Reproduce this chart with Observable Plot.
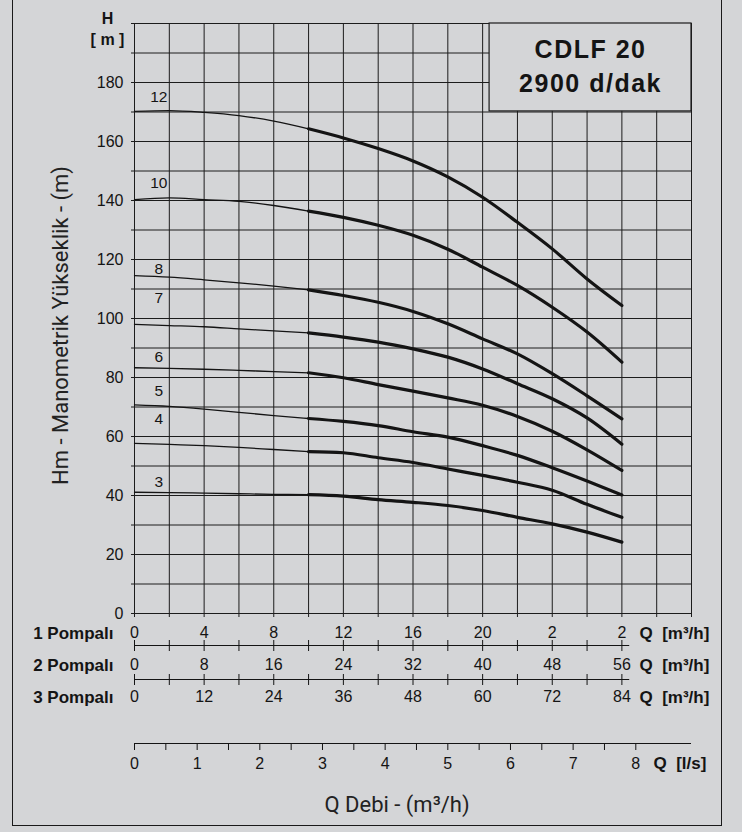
<!DOCTYPE html>
<html>
<head>
<meta charset="utf-8">
<script src="https://cdn.jsdelivr.net/npm/d3@7"></script>
<script src="https://cdn.jsdelivr.net/npm/@observablehq/plot@0.6"></script>
<style>
  html, body { margin: 0; padding: 0; background: #d4d5d7; }
  #wrap { position: relative; width: 742px; height: 832px; overflow: hidden; background: #d4d5d7; }
  #frame { position: absolute; left: 12px; top: -10px; width: 710px; height: 836px; border: 1.6px solid #1a1a1a; box-sizing: border-box; }
  #chart { position: absolute; left: 0; top: 0; }
</style>
</head>
<body>
<div id="wrap"><div id="frame"></div><div id="chart"></div></div>
<script>
// ---- data (1 pump flow Q in m³/h, head H in m) ----
const qFlow = [0, 2, 4, 6, 8, 10, 12, 14, 16, 18, 20, 22, 24, 26, 28];
const head12 = [170.2, 170.5, 169.9, 168.8, 166.9, 164.3, 161.2, 157.6, 153.4, 148.0, 141.1, 132.6, 123.6, 113.4, 104.4];
const head10 = [140.3, 140.9, 140.3, 139.7, 138.3, 136.4, 134.3, 131.6, 128.2, 123.5, 117.4, 111.2, 103.8, 95.4, 85.2];
const head8  = [114.5, 114.0, 113.1, 112.1, 111.0, 109.7, 107.8, 105.5, 102.4, 98.2, 93.1, 88.0, 81.3, 73.8, 66.0];
const head7  = [98.0, 97.6, 97.2, 96.5, 95.8, 95.1, 93.7, 92.0, 89.7, 86.9, 82.9, 77.9, 72.8, 66.3, 57.4];
const head6  = [83.3, 83.1, 82.8, 82.4, 82.0, 81.6, 79.9, 77.6, 75.4, 73.1, 70.6, 66.8, 61.8, 55.5, 48.5];
const head5  = [70.7, 70.2, 69.3, 68.2, 67.1, 66.1, 65.1, 63.7, 61.6, 59.8, 56.9, 53.6, 49.4, 44.9, 40.2];
const head4  = [57.7, 57.3, 56.9, 56.3, 55.6, 54.9, 54.5, 52.8, 51.2, 49.0, 46.8, 44.5, 41.8, 37.0, 32.6];
const head3  = [41.1, 41.0, 40.8, 40.6, 40.4, 40.3, 39.8, 38.6, 37.7, 36.6, 34.9, 32.6, 30.4, 27.6, 24.2];
const stageNames = ["12", "10", "8", "7", "6", "5", "4", "3"];
const stageHeads = [head12, head10, head8, head7, head6, head5, head4, head3];
const stageLabelQ = [1.4, 1.4, 1.4, 1.4, 1.4, 1.4, 1.4, 1.4];
const stageLabelH = [175, 145.8, 116.9, 106.8, 87, 75.3, 65.8, 44.4];
const thickFrom = 10; // thin line up to Q=10, thick afterwards

// ---- axes / tick labels ----
const yTicks = [0, 20, 40, 60, 80, 100, 120, 140, 160, 180];
const pump1Ticks = [0, 4, 8, 12, 16, 20, 24, 28];
const pump1Labels = ["0", "4", "8", "12", "16", "20", "2", "2"];
const pump2Ticks = [0, 8, 16, 24, 32, 40, 48, 56];
const pump3Ticks = [0, 12, 24, 36, 48, 60, 72, 84];
const lsTicks = [0, 1, 2, 3, 4, 5, 6, 7, 8];
const rowNames = ["1 Pompalı", "2 Pompalı", "3 Pompalı"];
const unitLabels = ["Q\u00a0\u00a0[m³/h]", "Q\u00a0\u00a0[m³/h]", "Q\u00a0\u00a0[m³/h]"];
const titleLines = ["CDLF 20", "2900 d/dak"];
const yTitle = "Hm - Manometrik Yükseklik - (m)";
const xTitle = "Q Debi - (m³/h)";

// ---- build table ----
const rows = stageNames.flatMap((s, k) => stageHeads[k].map((h, i) => ({stage: s, q: qFlow[i], h})));
const thin = rows.filter(d => d.q <= thickFrom);
const thick = rows.filter(d => d.q >= thickFrom);
const labels = stageNames.map((s, i) => ({s, q: stageLabelQ[i], h: stageLabelH[i]}));

const BG = "#d4d5d7", INK = "#141414";
const gridH = d3.range(0, 201, 10);
const gridQ = d3.range(0, 33, 2);
const lsMinor = d3.range(0, 8.01, 0.5);
const num = "Liberation Sans, Arial, sans-serif";
const m3 = 3.6; // 1 l/s = 3.6 m³/h

const chart = Plot.plot({
  width: 742, height: 832,
  marginLeft: 134, marginRight: 51, marginTop: 23, marginBottom: 219,
  x: {domain: [0, 32], axis: null},
  y: {domain: [0, 200], axis: null},
  style: {background: "transparent", fontFamily: num, color: INK},
  marks: [
    // grid
    Plot.ruleY(gridH, {x1: 0, x2: 32, stroke: "#1c1c1c", strokeWidth: 1}),
    Plot.ruleY(gridH, {x1: 0, x2: 0, insetLeft: -3, stroke: "#1c1c1c"}),
    Plot.ruleX(gridQ, {y1: 0, y2: 200, stroke: "#1c1c1c", strokeWidth: 1}),
    Plot.ruleX(gridQ, {y1: 0, y2: 0, insetBottom: -4, stroke: "#1c1c1c"}),
    // title box
    Plot.rect([0], {x1: 20.4, x2: 32, y1: 170.2, y2: 200, fill: BG, stroke: "#1c1c1c", strokeWidth: 1.2}),
    Plot.text([titleLines.join("\n")], {x: (20.4 + 32) / 2, y: 186.2, text: d => d, fontSize: 25, fontWeight: "bold", lineHeight: 1.36, fill: INK}),
    // curves
    Plot.line(thin, {x: "q", y: "h", z: "stage", stroke: INK, strokeWidth: 1.3, curve: "monotone-x"}),
    Plot.line(thick, {x: "q", y: "h", z: "stage", stroke: INK, strokeWidth: 3.2, curve: "monotone-x"}),
    Plot.text(labels, {x: "q", y: "h", text: "s", fontSize: 15.5, fill: INK}),
    // y axis labels
    Plot.text(yTicks, {x: 0, y: d => d, text: d => String(d), textAnchor: "end", dx: -11, fontSize: 16, fill: INK}),
    Plot.text(["H\n[ m ]"], {frameAnchor: "top-left", text: d => d, textAnchor: "middle", lineAnchor: "middle", dx: -27, dy: 4, lineHeight: 1.3, fontSize: 16, fontWeight: "bold", fill: INK}),
    Plot.text([yTitle], {frameAnchor: "left", text: d => d, textAnchor: "middle", lineAnchor: "middle", rotate: -90, dx: -74, dy: 7, fontSize: 22, fontFamily: "Roboto, sans-serif", fill: "#222"}),
    // 1 pump row
    Plot.text(pump1Ticks, {x: d => d, y: 0, text: (d, i) => pump1Labels[i], dy: 19, fontSize: 16, fill: INK}),
    // 2 pump row
    Plot.ruleY([0], {x1: 0, x2: 28.45, dy: 32, stroke: INK, strokeWidth: 1.2}),
    Plot.ruleX(d3.range(0, 57, 4), {x: d => d / 2, y1: 0, y2: 0, dy: 32, insetTop: -5, insetBottom: -6, stroke: INK}),
    Plot.text(pump2Ticks, {x: d => d / 2, y: 0, text: d => String(d), dy: 51, fontSize: 16, fill: INK}),
    // 3 pump row
    Plot.ruleY([0], {x1: 0, x2: 28.45, dy: 66, stroke: INK, strokeWidth: 1.2}),
    Plot.ruleX(d3.range(0, 85, 6), {x: d => d / 3, y1: 0, y2: 0, dy: 66, insetTop: -5, insetBottom: -6, stroke: INK}),
    Plot.text(pump3Ticks, {x: d => d / 3, y: 0, text: d => String(d), dy: 83, fontSize: 16, fill: INK}),
    // row names and units
    Plot.text([rowNames.join("\n")], {frameAnchor: "bottom-left", text: d => d, textAnchor: "end", lineAnchor: "middle", dx: -21, dy: 47, lineHeight: 1.88, fontSize: 17, fontWeight: "bold", fill: INK}),
    Plot.text([unitLabels.join("\n")], {frameAnchor: "bottom-right", text: d => d, textAnchor: "start", lineAnchor: "middle", dx: -52, dy: 47, lineHeight: 1.88, fontSize: 17, fontWeight: "bold", fill: INK}),
    // l/s axis
    Plot.ruleY([0], {x1: 0, x2: 32, dy: 130, stroke: INK, strokeWidth: 1.2}),
    Plot.ruleX(lsMinor, {x: d => d * m3, y1: 0, y2: 0, dy: 130, insetBottom: -7, stroke: INK}),
    Plot.text(lsTicks, {x: d => d * m3, y: 0, text: d => String(d), dy: 150, fontSize: 16, fill: INK}),
    Plot.text(["Q\u00a0\u00a0[l/s]"], {frameAnchor: "bottom-right", text: d => d, textAnchor: "start", lineAnchor: "middle", dx: -38, dy: 150, fontSize: 17, fontWeight: "bold", fill: INK}),
    // x title
    Plot.text([xTitle], {frameAnchor: "bottom", text: d => d, textAnchor: "middle", lineAnchor: "middle", dx: -16, dy: 191, fontSize: 22, fontFamily: "Roboto, sans-serif", fill: "#222"})
  ]
});
chart.querySelectorAll('g[font-size="25"]').forEach(g => g.setAttribute("letter-spacing", "1.5"));
document.getElementById("chart").append(chart);
</script>
</body>
</html>
